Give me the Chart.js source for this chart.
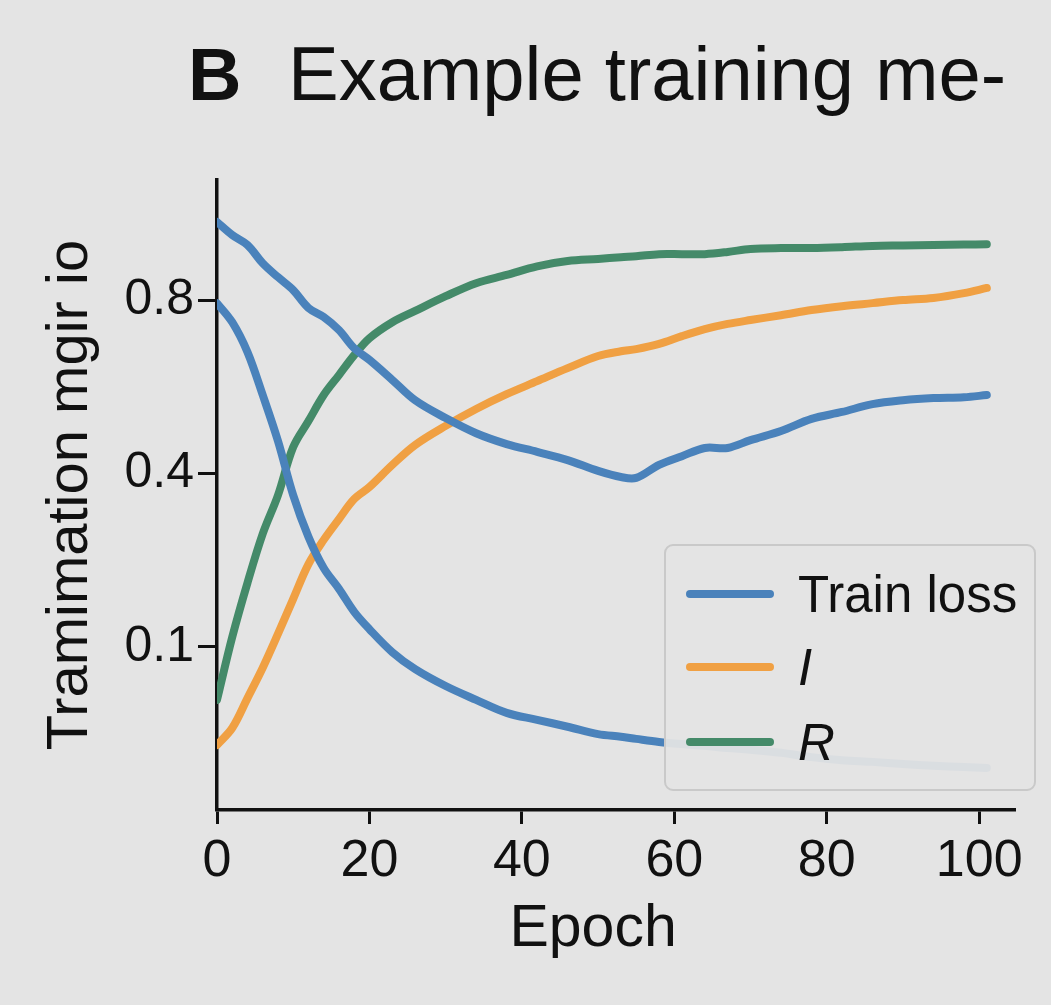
<!DOCTYPE html>
<html>
<head>
<meta charset="utf-8">
<script src="https://cdn.jsdelivr.net/npm/chart.js@4.4.1/dist/chart.umd.min.js"></script>
<style>
  html, body { margin: 0; padding: 0; background: #e4e4e4; }
  #wrap { width: 1051px; height: 1005px; position: relative; }
</style>
</head>
<body>
<div id="wrap"><canvas id="myChart"></canvas></div>
<script>
// epochs shared by every curve
const epochs = [0, 2, 4, 6, 8, 10, 12, 14, 16, 18, 20, 23, 26, 30, 34, 38, 42, 46, 50, 53, 55, 58, 61, 64, 67, 70, 74, 78, 82, 86, 90, 94, 98, 101];

// values in axis units (the axis is labelled 0.1 / 0.4 / 0.8 at equal steps)
const upperBlue = [0.980, 0.950, 0.927, 0.885, 0.853, 0.823, 0.782, 0.761, 0.731, 0.689, 0.662, 0.616, 0.569, 0.528, 0.493, 0.468, 0.450, 0.431, 0.406, 0.392, 0.390, 0.420, 0.440, 0.459, 0.459, 0.477, 0.498, 0.526, 0.542, 0.560, 0.569, 0.574, 0.576, 0.581];
const trainLoss = [0.793, 0.749, 0.680, 0.581, 0.475, 0.350, 0.254, 0.182, 0.134, 0.081, 0.041, -0.012, -0.051, -0.090, -0.122, -0.152, -0.168, -0.184, -0.201, -0.207, -0.212, -0.219, -0.224, -0.228, -0.233, -0.237, -0.244, -0.254, -0.261, -0.265, -0.270, -0.274, -0.277, -0.279];
const iSeries = [-0.226, -0.187, -0.118, -0.048, 0.030, 0.111, 0.191, 0.247, 0.295, 0.341, 0.369, 0.420, 0.466, 0.510, 0.549, 0.583, 0.613, 0.643, 0.671, 0.682, 0.687, 0.699, 0.717, 0.733, 0.745, 0.754, 0.765, 0.777, 0.786, 0.793, 0.800, 0.805, 0.816, 0.828];
const rSeries = [-0.122, 0.023, 0.148, 0.261, 0.350, 0.461, 0.521, 0.581, 0.627, 0.673, 0.712, 0.749, 0.775, 0.809, 0.839, 0.858, 0.878, 0.890, 0.895, 0.899, 0.901, 0.906, 0.906, 0.906, 0.911, 0.918, 0.920, 0.920, 0.922, 0.925, 0.926, 0.927, 0.928, 0.929];

const xTicks = [0, 20, 40, 60, 80, 100];
const yTickValues = [0, 0.4, 0.8];
const yTickLabels = ["0.1", "0.4", "0.8"];
const legendNames = ["Train loss", "I", "R"];

const BLUE = "#4a82bb";
const ORANGE = "#f0a043";
const GREEN = "#448a69";
const INK = "#111111";

const toPts = (vals) => vals.map((v, i) => ({ x: epochs[i], y: v }));

const lineStyle = (color) => ({
  borderColor: color,
  backgroundColor: color,
  borderWidth: 8,
  pointRadius: 0,
  tension: 0.35,
  borderCapStyle: "round",
  borderJoinStyle: "round",
  fill: false,
});

// page background
const bgPlugin = {
  id: "bg",
  beforeDraw(chart) {
    const c = chart.ctx;
    c.save();
    c.fillStyle = "#e4e4e4";
    c.fillRect(0, 0, chart.width, chart.height);
    c.restore();
  },
};

// title with a bold panel letter
const titlePlugin = {
  id: "panelTitle",
  afterDraw(chart) {
    const c = chart.ctx;
    c.save();
    c.fillStyle = INK;
    c.textBaseline = "alphabetic";
    c.font = "bold 74px 'Liberation Sans', Arial, sans-serif";
    c.fillText("B", 188, 100);
    c.font = "76px 'Liberation Sans', Arial, sans-serif";
    c.fillText("Example training me-", 288, 100);
    c.restore();
  },
};

// boxed legend inside the plot
const legendPlugin = {
  id: "boxLegend",
  afterDraw(chart) {
    const c = chart.ctx;
    const x0 = 665, y0 = 545, w = 370, h = 245, r = 8;
    c.save();
    c.beginPath();
    c.roundRect(x0, y0, w, h, r);
    c.fillStyle = "rgba(227,227,227,0.94)";
    c.fill();
    c.lineWidth = 2;
    c.strokeStyle = "#c9c9c9";
    c.stroke();
    const rows = [594, 667, 742];
    chart.data.datasets.forEach((ds) => {
      if (!ds.legendName) return;
      const k = legendNames.indexOf(ds.legendName);
      const y = rows[k];
      c.beginPath();
      c.moveTo(690, y);
      c.lineTo(770, y);
      c.lineWidth = 8;
      c.lineCap = "round";
      c.strokeStyle = ds.borderColor;
      c.stroke();
      c.fillStyle = INK;
      c.textBaseline = "alphabetic";
      c.font = (k === 0 ? "" : "italic ") + "51px 'Liberation Sans', Arial, sans-serif";
      c.fillText(ds.legendName, 798, y + 18);
    });
    c.restore();
  },
};

const ctx = document.getElementById("myChart");
const myChart = new Chart(ctx, {
  type: "line",
  plugins: [bgPlugin, titlePlugin, legendPlugin],
  data: {
    datasets: [
      { label: "upper", data: toPts(upperBlue), ...lineStyle(BLUE) },
      { label: "Train loss", legendName: "Train loss", data: toPts(trainLoss), ...lineStyle(BLUE) },
      { label: "I", legendName: "I", data: toPts(iSeries), ...lineStyle(ORANGE) },
      { label: "R", legendName: "R", data: toPts(rSeries), ...lineStyle(GREEN) },
    ],
  },
  options: {
    responsive: true,
    maintainAspectRatio: false,
    animation: false,
    layout: { padding: { left: 0, top: 180, right: 36, bottom: 0 } },
    plugins: {
      legend: { display: false },
      tooltip: { enabled: false },
      title: { display: false },
    },
    scales: {
      x: {
        type: "linear",
        min: 0,
        max: 104.7,
        afterBuildTicks: (scale) => { scale.ticks = xTicks.map((v) => ({ value: v })); },
        afterFit: (scale) => { scale.height = 195; },
        grid: { display: true, drawOnChartArea: false, drawTicks: true, tickLength: 14, tickWidth: 3, tickColor: INK },
        border: { display: true, color: INK, width: 3.5 },
        ticks: {
          color: INK,
          padding: 6,
          maxRotation: 0,
          font: { family: "'Liberation Sans', Arial, sans-serif", size: 52 },
        },
        title: {
          display: true,
          // trailing spaces pull the centred word over the 0-100 span
          text: "Epoch\u2002 ",
          color: INK,
          padding: { top: 0, bottom: 40 },
          font: { family: "'Liberation Sans', Arial, sans-serif", size: 59 },
        },
      },
      y: {
        type: "linear",
        min: -0.376,
        max: 1.077,
        afterBuildTicks: (scale) => { scale.ticks = yTickValues.map((v) => ({ value: v })); },
        afterFit: (scale) => { scale.width = 217; },
        grid: { display: true, drawOnChartArea: false, drawTicks: true, tickLength: 19, tickWidth: 3, tickColor: INK },
        border: { display: true, color: INK, width: 3.5 },
        ticks: {
          color: INK,
          padding: 4,
          font: { family: "'Liberation Sans', Arial, sans-serif", size: 50 },
          callback: (v) => {
            const k = yTickValues.indexOf(v);
            return k >= 0 ? yTickLabels[k] : "";
          },
        },
        title: {
          display: true,
          text: "Tramimation mgir io",
          color: INK,
          padding: { top: 36, bottom: 0 },
          font: { family: "'Liberation Sans', Arial, sans-serif", size: 58 },
        },
      },
    },
  },
});
</script>
</body>
</html>
